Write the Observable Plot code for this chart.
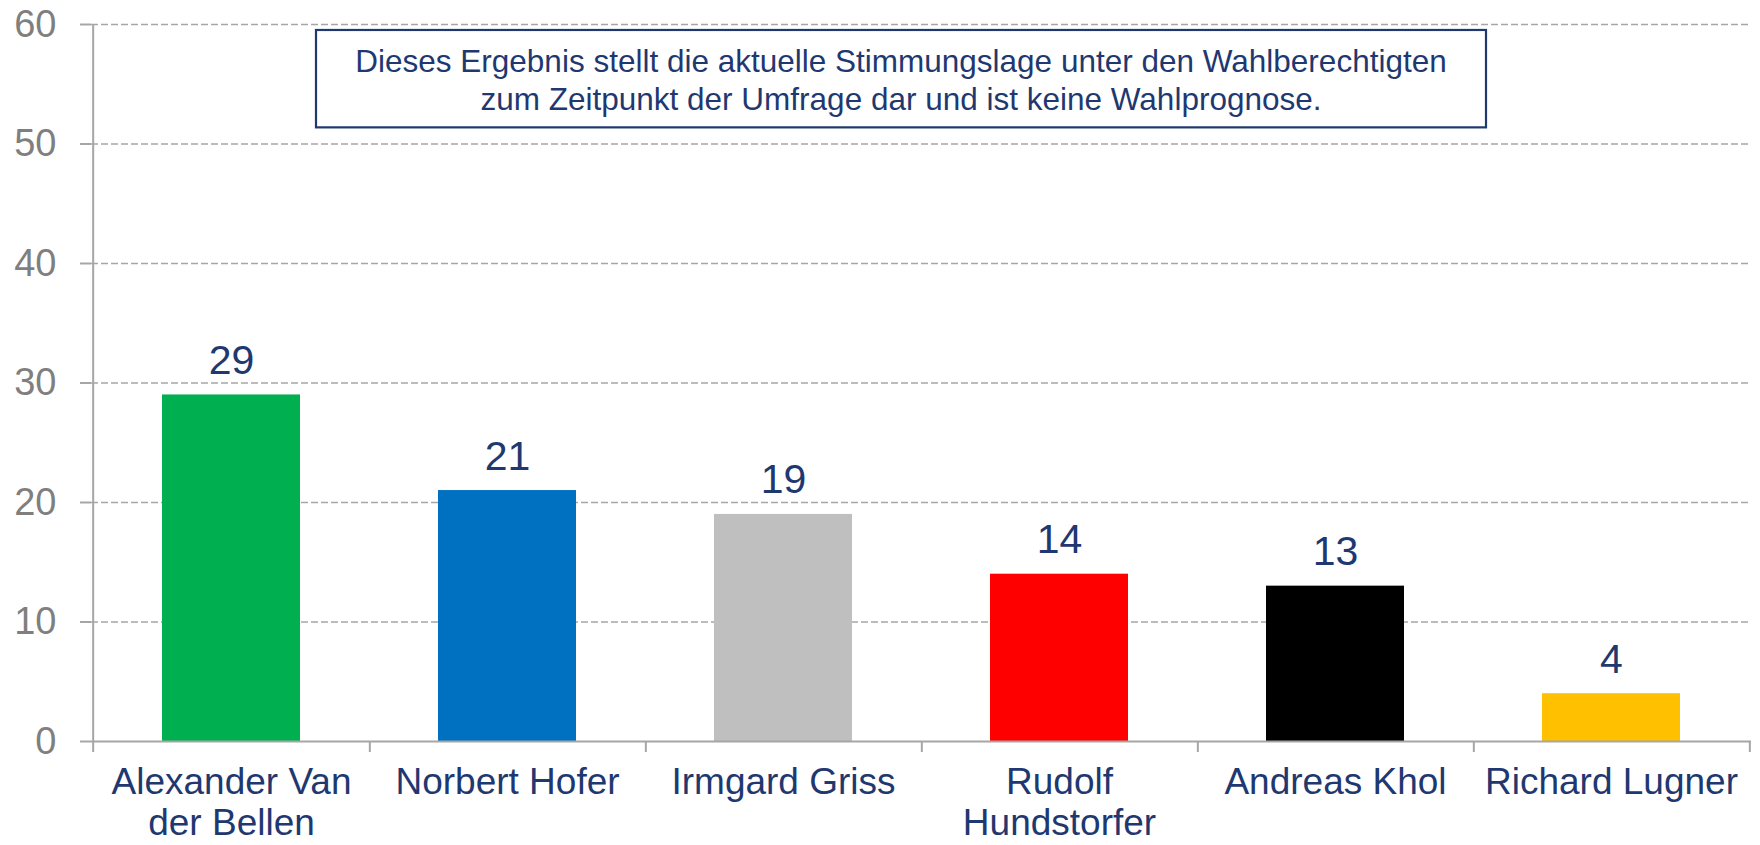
<!DOCTYPE html>
<html><head><meta charset="utf-8">
<script src="https://cdn.jsdelivr.net/npm/d3@7"></script>
<script src="https://cdn.jsdelivr.net/npm/@observablehq/plot@0.6"></script>
<style>html,body{margin:0;padding:0;background:#fff;} #chart svg{display:block;}</style>
</head><body><div id="chart"></div>
<script>
const candidates = ["Alexander Van der Bellen", "Norbert Hofer", "Irmgard Griss", "Rudolf Hundstorfer", "Andreas Khol", "Richard Lugner"];
const tickLabels = ["Alexander Van\nder Bellen", "Norbert Hofer", "Irmgard Griss", "Rudolf\nHundstorfer", "Andreas Khol", "Richard Lugner"];
const shares = [29, 21, 19, 14, 13, 4];
const barColors = ["#00B050", "#0070C0", "#BFBFBF", "#FF0000", "#000000", "#FFC000"];
const yTicks = [0, 10, 20, 30, 40, 50, 60];
const noteLines = ["Dieses Ergebnis stellt die aktuelle Stimmungslage unter den Wahlberechtigten", "zum Zeitpunkt der Umfrage dar und ist keine Wahlprognose."];

const data = candidates.map((c, i) => ({candidate: c, share: shares[i], color: barColors[i]}));
const navy = "#1F3870";
const grey = "#A6A6A6";
const W = 1760, H = 845, mL = 91, mR = 9, mT = 24, mB = 104;
const step = (W - mL - mR) / candidates.length;
const font = "'Liberation Sans', Arial, sans-serif";

const note = (index, scales) => {
  const g = d3.create("svg:g");
  const top = scales.y(59.5), bottom = scales.y(51.35);
  const left = 316, right = 1486, cx = (left + right) / 2;
  g.append("rect").attr("x", left).attr("y", top).attr("width", right - left).attr("height", bottom - top)
    .attr("fill", "#fff").attr("stroke", navy).attr("stroke-width", 2.2);
  noteLines.forEach((t, i) => {
    g.append("text").attr("x", cx).attr("y", top + 42 + i * 38.3)
      .attr("text-anchor", "middle").attr("font-size", 31.5).attr("font-family", font)
      .attr("fill", navy).text(t);
  });
  return g.node();
};

const chart = Plot.plot({
  width: W, height: H, marginLeft: mL, marginRight: mR, marginTop: mT, marginBottom: mB,
  style: {fontFamily: font, background: "#fff"},
  x: {domain: candidates, paddingInner: 0.5, paddingOuter: 0.25, label: null},
  y: {domain: [0, 60], label: null},
  marks: [
    Plot.gridY(yTicks.filter(d => d > 0), {stroke: grey, strokeOpacity: 1, strokeWidth: 1.6, strokeDasharray: "7,3"}),
    Plot.barY(data, {x: "candidate", y: "share", fill: "color"}),
    Plot.ruleY([0], {stroke: grey, strokeWidth: 2}),
    Plot.ruleX([candidates[0]], {y1: 60, y2: 0, dx: -step / 2, insetBottom: -11, stroke: grey, strokeWidth: 2}),
    Plot.ruleX(candidates, {y1: 0, y2: 0, dx: step / 2, insetBottom: -11, stroke: grey, strokeWidth: 2}),
    Plot.axisY(yTicks, {tickSize: 11, tickPadding: 24, fontSize: 38, fill: "#7F7F7F", stroke: grey, strokeWidth: 2, label: null}),
    Plot.axisX({tickSize: 0, tickPadding: 24, fontSize: 37, fill: navy, lineHeight: 1.1, label: null,
      tickFormat: d => tickLabels[candidates.indexOf(d)]}),
    Plot.text(data, {x: "candidate", y: "share", text: d => String(d.share), dy: -21, lineAnchor: "bottom", fontSize: 41, fill: navy}),
    note
  ]
});
document.getElementById("chart").appendChild(chart);
</script>
</body></html>
